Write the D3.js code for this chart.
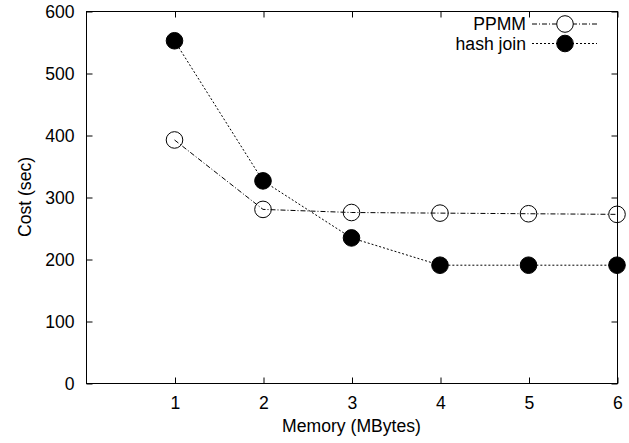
<!DOCTYPE html>
<html>
<head>
<meta charset="utf-8">
<script src="https://cdn.jsdelivr.net/npm/d3@7"></script>
<style>
  body { margin: 0; background: #fff; }
  text { font-family: 'Liberation Sans', Arial, sans-serif; }
</style>
</head>
<body>
<div id="chart"></div>
<script>
// data
var memory = [1, 2, 3, 4, 5, 6]
var ppmm = [392, 280, 275, 274, 273, 272]
var hashJoin = [552, 326, 234, 190, 190, 190]
var xTicks = [1, 2, 3, 4, 5, 6]
var yTicks = [0, 100, 200, 300, 400, 500, 600]

var margin = { top: 11, left: 86, right: 12, bottom: 60 }
var width = 629 - margin.left - margin.right
var height = 443 - margin.top - margin.bottom

var svg = d3.select('#chart')
  .append('svg')
  .attr('width', 629)
  .attr('height', 443)
  .append('g')
  .attr('transform', 'translate(' + margin.left + ',' + margin.top + ')')

var xPositionScale = d3.scaleLinear().domain([0, 6]).range([0, width])
var yPositionScale = d3.scaleLinear().domain([0, 600]).range([height, 0])

var fontSize = 17.6
var tick = 6

// frame
svg.append('rect')
  .attr('x', 0.5)
  .attr('y', 0.5)
  .attr('width', width)
  .attr('height', height)
  .attr('fill', 'none')
  .attr('stroke', '#000')

// axes, ticks pointing inward on all four sides
var xAxis = d3.axisBottom(xPositionScale)
  .tickValues(xTicks)
  .tickFormat(d3.format('d'))
  .tickSize(-tick)
  .tickPadding(13)
svg.append('g')
  .attr('class', 'axis x-axis')
  .attr('transform', 'translate(0.5,' + (height + 0.5) + ')')
  .call(xAxis)

var xAxisTop = d3.axisTop(xPositionScale).tickValues(xTicks).tickSize(-tick).tickFormat('')
svg.append('g')
  .attr('class', 'axis')
  .attr('transform', 'translate(0.5,0.5)')
  .call(xAxisTop)

var yAxis = d3.axisLeft(yPositionScale)
  .tickValues(yTicks)
  .tickFormat(d3.format('d'))
  .tickSize(-tick)
  .tickPadding(12)
svg.append('g')
  .attr('class', 'axis y-axis')
  .attr('transform', 'translate(0.5,0.5)')
  .call(yAxis)

var yAxisRight = d3.axisRight(yPositionScale).tickValues(yTicks).tickSize(-tick).tickFormat('')
svg.append('g')
  .attr('class', 'axis')
  .attr('transform', 'translate(' + (width + 0.5) + ',0.5)')
  .call(yAxisRight)

svg.selectAll('.axis .domain').remove()
svg.selectAll('.axis line').attr('stroke', '#000')
svg.selectAll('.axis text')
  .attr('font-size', fontSize)
  .attr('font-family', "'Liberation Sans', Arial, sans-serif")
  .attr('fill', '#000')

// axis labels
svg.append('text')
  .text('Memory (MBytes)')
  .attr('x', width / 2)
  .attr('y', height + 49)
  .attr('font-size', fontSize)
  .attr('text-anchor', 'middle')

svg.append('text')
  .text('Cost (sec)')
  .attr('transform', 'translate(' + (31 - margin.left) + ',' + height / 2 + ') rotate(-90)')
  .attr('font-size', fontSize)
  .attr('text-anchor', 'middle')

var series = [
  { name: 'PPMM', values: ppmm, dash: '5,2,1,2', fill: '#fff' },
  { name: 'hash join', values: hashJoin, dash: '2,2', fill: '#000' }
]

var line = d3.line()
  .x(function (d) { return xPositionScale(d[0]) })
  .y(function (d) { return yPositionScale(d[1]) })

series.forEach(function (s, i) {
  var points = memory.map(function (m, j) { return [m, s.values[j]] })

  svg.append('path')
    .datum(points)
    .attr('d', line)
    .attr('fill', 'none')
    .attr('stroke', '#000')
    .attr('stroke-width', 1)
    .attr('stroke-dasharray', s.dash)

  svg.selectAll('.pt-' + i)
    .data(points)
    .enter()
    .append('circle')
    .attr('class', 'pt-' + i)
    .attr('cx', function (d) { return xPositionScale(d[0]) })
    .attr('cy', function (d) { return yPositionScale(d[1]) })
    .attr('r', 8.3)
    .attr('fill', s.fill)
    .attr('fill-opacity', s.fill === '#fff' ? 0 : 1)
    .attr('stroke', '#000')
    .attr('stroke-width', 1)

  // legend
  var ly = 13 + i * 19.5
  var lx = 532 - margin.left
  svg.append('text')
    .text(s.name)
    .attr('x', lx - 6)
    .attr('y', ly)
    .attr('dy', '0.35em')
    .attr('font-size', fontSize)
    .attr('text-anchor', 'end')

  svg.append('line')
    .attr('x1', lx)
    .attr('x2', lx + 65)
    .attr('y1', ly)
    .attr('y2', ly)
    .attr('stroke', '#000')
    .attr('stroke-dasharray', s.dash)

  svg.append('circle')
    .attr('cx', lx + 33)
    .attr('cy', ly)
    .attr('r', 8.3)
    .attr('fill', s.fill)
    .attr('stroke', '#000')
})
</script>
</body>
</html>
